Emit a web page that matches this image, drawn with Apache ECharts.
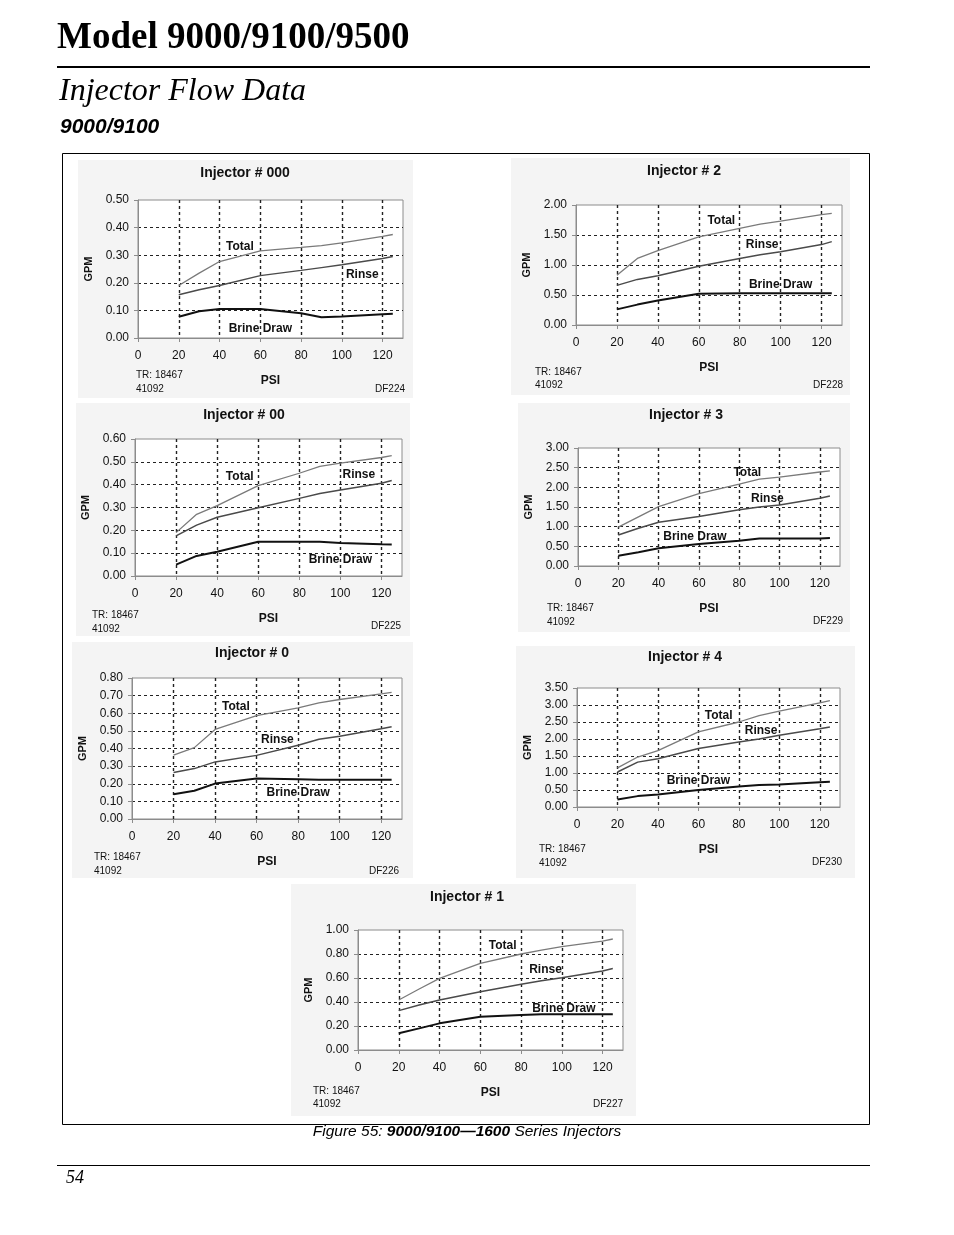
<!DOCTYPE html>
<html>
<head>
<meta charset="utf-8">
<script src="https://cdn.jsdelivr.net/npm/echarts@6/dist/echarts.min.js"></script>
<style>
html,body{margin:0;padding:0;background:#fff;}
#chart{width:954px;height:1235px;}
</style>
</head>
<body>
<div id="chart"></div>
<script>
// ---------------- DATA ----------------
const psi = [20, 30, 40, 60, 80, 90, 100, 120, 125];
const injectorNames = ['000', '2', '00', '3', '0', '4', '1'];
const drawingNos = ['DF224', 'DF228', 'DF225', 'DF229', 'DF226', 'DF230', 'DF227'];
const noteLine1 = 'TR: 18467';
const noteLine2 = '41092';
const seriesNames = ['Total', 'Rinse', 'Brine Draw'];

const total000 = [0.19, 0.235, 0.277, 0.316, 0.328, 0.335, 0.345, 0.368, 0.375];
const rinse000 = [0.157, 0.175, 0.19, 0.226, 0.245, 0.255, 0.265, 0.288, 0.295];
const brine000 = [0.077, 0.097, 0.105, 0.105, 0.09, 0.075, 0.078, 0.086, 0.088];

const total2 = [0.83, 1.11, 1.24, 1.47, 1.61, 1.68, 1.73, 1.84, 1.86];
const rinse2 = [0.66, 0.76, 0.82, 0.98, 1.11, 1.17, 1.22, 1.34, 1.39];
const brine2 = [0.26, 0.34, 0.41, 0.52, 0.53, 0.53, 0.53, 0.53, 0.53];

const total00 = [0.19, 0.27, 0.308, 0.396, 0.45, 0.48, 0.494, 0.519, 0.527];
const rinse00 = [0.176, 0.223, 0.257, 0.299, 0.34, 0.361, 0.377, 0.406, 0.418];
const brine00 = [0.05, 0.088, 0.106, 0.15, 0.15, 0.15, 0.145, 0.139, 0.138];

const total3 = [0.99, 1.25, 1.51, 1.84, 2.08, 2.21, 2.26, 2.39, 2.42];
const rinse3 = [0.79, 0.96, 1.11, 1.26, 1.43, 1.50, 1.55, 1.72, 1.78];
const brine3 = [0.26, 0.35, 0.45, 0.56, 0.64, 0.70, 0.70, 0.70, 0.71];

const total0 = [0.363, 0.405, 0.508, 0.587, 0.63, 0.659, 0.678, 0.71, 0.719];
const rinse0 = [0.264, 0.286, 0.324, 0.361, 0.418, 0.452, 0.47, 0.512, 0.523];
const brine0 = [0.141, 0.16, 0.201, 0.23, 0.226, 0.222, 0.222, 0.222, 0.222];

const total4 = [1.15, 1.47, 1.66, 2.21, 2.50, 2.69, 2.82, 3.06, 3.13];
const rinse4 = [1.03, 1.32, 1.42, 1.72, 1.91, 2.00, 2.11, 2.30, 2.35];
const brine4 = [0.22, 0.32, 0.37, 0.50, 0.60, 0.645, 0.665, 0.73, 0.74];

const total1 = [0.417, 0.508, 0.597, 0.722, 0.80, 0.833, 0.861, 0.908, 0.925];
const rinse1 = [0.328, 0.375, 0.417, 0.486, 0.547, 0.578, 0.603, 0.658, 0.68];
const brine1 = [0.139, 0.18, 0.222, 0.278, 0.292, 0.297, 0.297, 0.297, 0.297];

const yMaxes = [0.5, 2.0, 0.6, 3.0, 0.8, 3.5, 1.0];
const yIntervals = [0.1, 0.5, 0.1, 0.5, 0.1, 0.5, 0.2];
const xMax = 130, xInterval = 20, xLastLabel = 120;

// ---------------- LAYOUT (positions / styles) ----------------
const allData = [
  [total000, rinse000, brine000],
  [total2, rinse2, brine2],
  [total00, rinse00, brine00],
  [total3, rinse3, brine3],
  [total0, rinse0, brine0],
  [total4, rinse4, brine4],
  [total1, rinse1, brine1]
];
// label anchor positions in data units [x,y] for Total, Rinse, Brine Draw
const labelPos = [
  [[50, 0.33], [110, 0.228], [60, 0.035]],
  [[71, 1.74], [91, 1.34], [100, 0.67]],
  [[51, 0.435], [109, 0.442], [100, 0.07]],
  [[84, 2.36], [94, 1.72], [58, 0.75]],
  [[50, 0.635], [70, 0.452], [80, 0.15]],
  [[70, 2.70], [91, 2.25], [60, 0.78]],
  [[71, 0.87], [92, 0.667], [101, 0.342]]
];
const plots = [
  {l: 138, t: 200, w: 265, h: 138, bg: [78, 160, 335, 238], title: [245, 173], notes: [136, 375, 389, 405, 389]},
  {l: 576, t: 205, w: 266, h: 120, bg: [511, 158, 339, 237], title: [684, 171], notes: [535, 372, 385, 843, 385]},
  {l: 135, t: 439, w: 267, h: 137, bg: [76, 403, 334, 233], title: [244, 415], notes: [92, 615, 629, 401, 626]},
  {l: 578, t: 448, w: 262, h: 118, bg: [518, 403, 332, 229], title: [686, 415], notes: [547, 608, 622, 843, 621]},
  {l: 132, t: 678, w: 270, h: 141, bg: [72, 642, 341, 236], title: [252, 653], notes: [94, 857, 871, 399, 871]},
  {l: 577, t: 688, w: 263, h: 119, bg: [516, 646, 339, 232], title: [685, 657], notes: [539, 849, 863, 842, 862]},
  {l: 358, t: 930, w: 265, h: 120, bg: [291, 884, 345, 232], title: [467, 897], notes: [313, 1091, 1104, 623, 1104]}
];
const lineStyles = [
  {color: '#7a7a7a', width: 1.3},
  {color: '#4a4a4a', width: 1.5},
  {color: '#111111', width: 2}
];
const SANS = "'Liberation Sans', Arial, sans-serif";
const SERIF = "'Liberation Serif', 'Times New Roman', serif";

const grids = [], xAxes = [], yAxes = [], series = [], graphics = [];

// page header / footer
graphics.push(
  {type: 'text', left: 57, top: 20, z: 5, style: {text: 'Model 9000/9100/9500', font: 'bold 37px ' + SERIF, fill: '#000'}},
  {type: 'rect', shape: {x: 57, y: 66, width: 813, height: 2}, style: {fill: '#000'}, z: 5},
  {type: 'text', left: 59, top: 76, z: 5, style: {text: 'Injector Flow Data', font: 'italic 32px ' + SERIF, fill: '#000'}},
  {type: 'text', left: 60, top: 117, z: 5, style: {text: '9000/9100', font: 'italic bold 21px ' + SANS, fill: '#000'}},
  {type: 'rect', shape: {x: 62.5, y: 153.5, width: 807, height: 971}, style: {fill: 'none', stroke: '#000', lineWidth: 1}, z: 5},
  {type: 'text', x: 467, y: 1132, z: 5, style: {
    text: '{n|Figure 55: }{b|9000/9100\u20141600}{n| Series Injectors}',
    rich: {n: {font: 'italic 15.5px ' + SANS, fill: '#000'}, b: {font: 'italic bold 15.5px ' + SANS, fill: '#000'}},
    align: 'center', verticalAlign: 'middle'}},
  {type: 'rect', shape: {x: 57, y: 1165, width: 813, height: 1}, style: {fill: '#000'}, z: 5},
  {type: 'text', x: 66, y: 1178, z: 5, style: {text: '54', font: 'italic 18px ' + SERIF, fill: '#000', verticalAlign: 'middle'}}
);

plots.forEach((p, i) => {
  grids.push({left: p.l, top: p.t, width: p.w, height: p.h, show: true, backgroundColor: '#fff', borderColor: '#8c8c8c', borderWidth: 1, z: 0});
  xAxes.push({
    type: 'value', gridIndex: i, min: 0, max: xMax, interval: xInterval, z: 2,
    name: 'PSI', nameLocation: 'middle', nameGap: 37,
    nameTextStyle: {fontFamily: SANS, fontWeight: 'bold', fontSize: 12, color: '#111'},
    axisLine: {show: true, lineStyle: {color: '#8c8c8c'}},
    axisTick: {show: true, length: 4, lineStyle: {color: '#8c8c8c'}},
    axisLabel: {fontFamily: SANS, fontSize: 12, color: '#111', margin: 12, showMaxLabel: false,
      formatter: v => (v > xLastLabel ? '' : String(v))},
    splitLine: {show: true, showMinLine: false, showMaxLine: false, lineStyle: {color: '#222', type: [3, 3], width: 1.4}}
  });
  yAxes.push({
    type: 'value', gridIndex: i, min: 0, max: yMaxes[i], interval: yIntervals[i], z: 2,
    name: 'GPM', nameLocation: 'middle', nameGap: 44, nameRotate: 90,
    nameTextStyle: {fontFamily: SANS, fontWeight: 'bold', fontSize: 11, color: '#111'},
    axisLine: {show: true, lineStyle: {color: '#8c8c8c'}},
    axisTick: {show: true, length: 4, lineStyle: {color: '#8c8c8c'}},
    axisLabel: {fontFamily: SANS, fontSize: 12, color: '#111', margin: 9, formatter: v => v.toFixed(2)},
    splitLine: {show: true, showMinLine: false, showMaxLine: false, lineStyle: {color: '#222', type: [3, 3], width: 1}}
  });
  allData[i].forEach((vals, s) => {
    series.push({
      type: 'line', name: seriesNames[s], xAxisIndex: i, yAxisIndex: i,
      data: psi.map((x, k) => [x, vals[k]]),
      showSymbol: false, symbol: 'none', smooth: false,
      lineStyle: lineStyles[s], silent: true, z: 3,
      markPoint: {
        silent: true, symbol: 'rect', symbolSize: 1, itemStyle: {color: 'rgba(0,0,0,0)'},
        label: {show: true, position: 'inside', formatter: seriesNames[s], fontFamily: SANS, fontWeight: 'bold', fontSize: 12, color: '#111'},
        data: [{coord: labelPos[i][s]}]
      }
    });
  });
  graphics.push(
    {type: 'rect', shape: {x: p.bg[0], y: p.bg[1], width: p.bg[2], height: p.bg[3]}, style: {fill: '#f4f4f4'}, z: -10},
    {type: 'text', x: p.title[0], y: p.title[1], z: 5, style: {text: 'Injector # ' + injectorNames[i], font: 'bold 14px ' + SANS, fill: '#111', align: 'center', verticalAlign: 'middle'}},
    {type: 'text', x: p.notes[0], y: p.notes[1], z: 5, style: {text: noteLine1, font: '10px ' + SANS, fill: '#111', verticalAlign: 'middle'}},
    {type: 'text', x: p.notes[0], y: p.notes[2], z: 5, style: {text: noteLine2, font: '10px ' + SANS, fill: '#111', verticalAlign: 'middle'}},
    {type: 'text', x: p.notes[3], y: p.notes[4], z: 5, style: {text: drawingNos[i], font: '10px ' + SANS, fill: '#111', align: 'right', verticalAlign: 'middle'}}
  );
});

const chart = echarts.init(document.getElementById('chart'), null, {renderer: 'canvas'});
chart.setOption({
  animation: false,
  backgroundColor: '#fff',
  grid: grids, xAxis: xAxes, yAxis: yAxes, series: series,
  graphic: graphics
});
</script>
</body>
</html>
